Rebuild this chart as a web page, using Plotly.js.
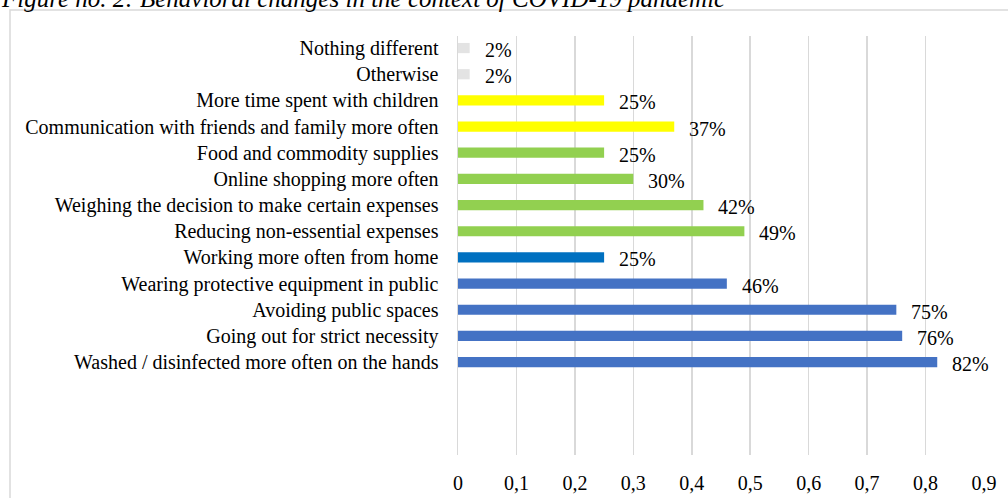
<!DOCTYPE html>
<html>
<head>
<meta charset="utf-8">
<script src="https://cdn.plot.ly/plotly-3.0.1.min.js"></script>
<style>html,body{margin:0;padding:0;background:#fff;}#chart{width:1008px;height:498px;}</style>
</head>
<body>
<div id="chart"></div>
<script>
const categories = [
  "Nothing different",
  "Otherwise",
  "More time spent with children",
  "Communication with friends and family more often",
  "Food and commodity supplies",
  "Online shopping more often",
  "Weighing the decision to make certain expenses",
  "Reducing non-essential expenses",
  "Working more often from home",
  "Wearing protective equipment in public",
  "Avoiding public spaces",
  "Going out for strict necessity",
  "Washed / disinfected more often on the hands"
];
const values = [0.02, 0.02, 0.25, 0.37, 0.25, 0.30, 0.42, 0.49, 0.25, 0.46, 0.75, 0.76, 0.82];
const barColors = ["#e3e3e3", "#e3e3e3", "#ffff00", "#ffff00", "#92d050", "#92d050", "#92d050", "#92d050", "#0070c0", "#4472c4", "#4472c4", "#4472c4", "#4472c4"];
const tickVals = [0, 0.1, 0.2, 0.3, 0.4, 0.5, 0.6, 0.7, 0.8, 0.9];
const tickText = ["0", "0,1", "0,2", "0,3", "0,4", "0,5", "0,6", "0,7", "0,8", "0,9"];
const titleText = "Figure no. 2: Behavioral changes in the context of COVID-19 pandemic";

const W = 1008, H = 498;
const L = 458, R = 24, T = 36, B = 43;
const pw = W - L - R, ph = H - T - B;
const px2x = p => (p - L) / pw;
const py2y = p => (H - B - p) / ph;

const FONT = "Liberation Serif";

const trace = {
  type: "bar",
  orientation: "h",
  x: values,
  y: categories,
  width: 0.39,
  marker: {color: barColors},
  hoverinfo: "none"
};

const annotations = categories.map((c, i) => ({
  x: values[i], y: c, xref: "x", yref: "y",
  text: Math.round(values[i] * 100) + "%",
  showarrow: false, xanchor: "left", yanchor: "middle",
  xshift: 13, yshift: -2,
  font: {family: FONT, size: 20, color: "#000"}
}));

annotations.push({
  xref: "paper", yref: "paper",
  x: px2x(-1), y: py2y(-1.5),
  xanchor: "left", yanchor: "middle",
  text: "<i>" + titleText + "</i>",
  showarrow: false,
  font: {family: FONT, size: 25, color: "#000"}
});

const layout = {
  width: W, height: H,
  margin: {l: L, r: R, t: T, b: B, pad: 0},
  paper_bgcolor: "#fff", plot_bgcolor: "#fff",
  showlegend: false,
  xaxis: {
    range: [0, 0.9],
    tickvals: tickVals, ticktext: tickText,
    showgrid: true, gridcolor: "#d9d9d9", gridwidth: 1.5,
    zeroline: false, showline: false, ticks: "",
    ticklabelstandoff: 14,
    tickfont: {family: FONT, size: 20, color: "#000"},
    fixedrange: true
  },
  yaxis: {
    type: "category",
    categoryarray: categories, categoryorder: "array",
    range: [15.55, -0.46],
    autorange: false,
    showgrid: false, zeroline: false,
    showline: true, linecolor: "#d9d9d9", linewidth: 1.5,
    ticks: "", ticklabelstandoff: 14,
    tickfont: {family: FONT, size: 20, color: "#000"},
    fixedrange: true
  },
  annotations: annotations,
  shapes: [{
    type: "rect", xref: "paper", yref: "paper",
    x0: px2x(10), x1: px2x(1030), y0: py2y(520), y1: py2y(10),
    line: {color: "#d9d9d9", width: 1.5}, fillcolor: "rgba(0,0,0,0)", layer: "below"
  }]
};

Plotly.newPlot("chart", [trace], layout, {staticPlot: true, displayModeBar: false});
</script>
</body>
</html>
